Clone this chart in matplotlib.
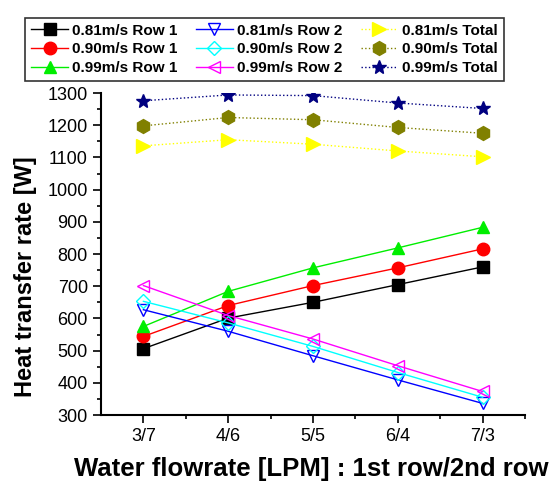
import matplotlib
matplotlib.use("Agg")
import matplotlib.pyplot as plt
from matplotlib.ticker import MultipleLocator, FixedLocator

plt.rcParams['font.family'] = ['Liberation Sans', 'DejaVu Sans']

categories = ["3/7", "4/6", "5/5", "6/4", "7/3"]

row1_081 = [506, 601, 650, 705, 760]
row1_090 = [544, 640, 702, 757, 816]
row1_099 = [575, 684, 757, 819, 883]
row2_081 = [627, 560, 484, 409, 336]
row2_090 = [653, 586, 513, 432, 355]
row2_099 = [702, 609, 536, 453, 373]
total_081 = [1136, 1155, 1141, 1120, 1102]
total_090 = [1198, 1224, 1217, 1193, 1175]
total_099 = [1276, 1294, 1292, 1269, 1252]

fig = plt.figure(figsize=(5.58, 4.82), dpi=100)
ax = fig.add_axes([0.181, 0.139, 0.760, 0.668])
x = list(range(1, len(categories) + 1))

series = [
    ("0.81m/s Row 1", row1_081, dict(color="black", marker="s", ms=8, mfc="black", mec="black", ls="-")),
    ("0.90m/s Row 1", row1_090, dict(color="red", marker="o", ms=9, mfc="red", mec="red", ls="-")),
    ("0.99m/s Row 1", row1_099, dict(color="#00ee00", marker="^", ms=9, mfc="#00ee00", mec="#00ee00", ls="-")),
    ("0.81m/s Row 2", row2_081, dict(color="blue", marker="v", ms=9, mfc="none", mec="blue", ls="-")),
    ("0.90m/s Row 2", row2_090, dict(color="cyan", marker="D", ms=7, mfc="none", mec="cyan", ls="-")),
    ("0.99m/s Row 2", row2_099, dict(color="magenta", marker="<", ms=9, mfc="none", mec="magenta", ls="-")),
    ("0.81m/s Total", total_081, dict(color="yellow", marker=">", ms=10, mfc="yellow", mec="yellow", ls=":")),
    ("0.90m/s Total", total_090, dict(color="olive", marker="h", ms=10, mfc="olive", mec="olive", ls=":")),
    ("0.99m/s Total", total_099, dict(color="navy", marker="*", ms=10, mfc="navy", mec="navy", ls=":")),
]

handles = []
for label, vals, st in series:
    h, = ax.plot(x, vals, lw=1, label=label, **st)
    handles.append(h)

ax.set_xlim(0.5, 5.5)
ax.set_ylim(300, 1300)
ax.set_xticks(x)
ax.set_xticklabels(categories)
ax.xaxis.set_minor_locator(FixedLocator([1.5, 2.5, 3.5, 4.5, 5.5]))
ax.yaxis.set_major_locator(MultipleLocator(100))
ax.yaxis.set_minor_locator(MultipleLocator(50))
ax.tick_params(axis='both', which='major', direction='out', length=6, width=1.2, labelsize=13)
ax.tick_params(axis='both', which='minor', direction='out', length=3, width=1.2)
for s in ["top", "right"]:
    ax.spines[s].set_visible(False)
for s in ["left", "bottom"]:
    ax.spines[s].set_linewidth(1.5)

ax.set_ylabel("Heat transfer rate [W]", fontsize=17, fontweight="bold")
ax.yaxis.set_label_coords(-0.151, 0.43)
ax.set_xlabel("Water flowrate [LPM] : 1st row/2nd row", fontsize=18.5, fontweight="bold")
ax.xaxis.set_label_coords(0.495, -0.13)

leg = fig.legend(handles=handles, ncol=3, loc="lower left",
                 bbox_to_anchor=(0.045, 0.832, 0.858, 0.147), mode="expand",
                 prop=dict(size=11, weight="bold"), frameon=True, fancybox=False,
                 edgecolor="black", handlelength=2.4, handletextpad=0.3,
                 columnspacing=0.3, labelspacing=0.3, borderaxespad=0, borderpad=0.4)
leg.get_frame().set_linewidth(1.2)

fig.savefig("out.png", dpi=100)
